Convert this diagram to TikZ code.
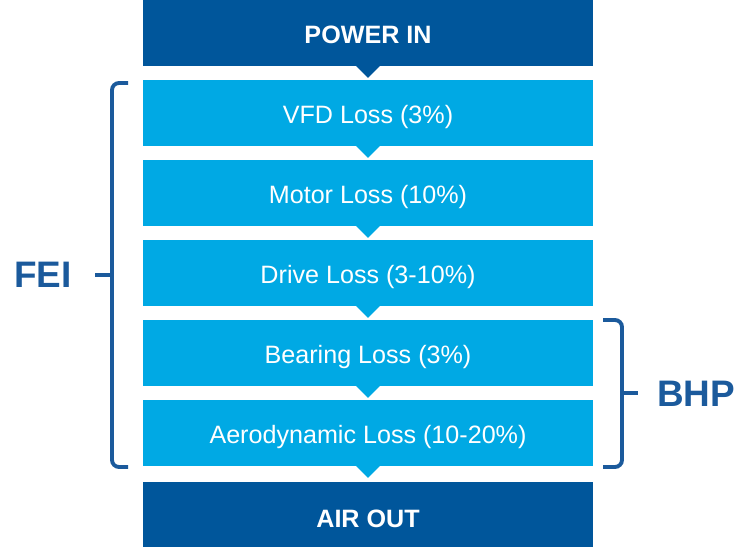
\documentclass[tikz,border=0pt]{standalone}
\usepackage{fontspec}
\setmainfont{Liberation Sans}
\usetikzlibrary{positioning}
\definecolor{darkblue}{HTML}{00569B}
\definecolor{lightblue}{HTML}{00A9E4}
\definecolor{bracketblue}{HTML}{1B5A9C}
\tikzset{
  stage/.style={fill=lightblue, text=white, minimum width=9cm, minimum height=1.32cm,
    inner sep=0pt, outer sep=0pt, text height=12pt, text depth=0pt,
    font=\fontsize{14.3}{16}\selectfont},
  endstage/.style={stage, fill=darkblue, font=\fontsize{14.3}{16}\selectfont\bfseries},
  brack/.style={draw=bracketblue, line width=2.2pt, rounded corners=4pt},
  bigtext/.style={text=bracketblue, font=\fontsize{21}{24}\selectfont\bfseries, inner sep=0pt}
}
\begin{document}
\begin{tikzpicture}[x=0.02cm, y=-0.02cm, node distance=0.28cm]
	\useasboundingbox (0,0) rectangle (750,547);
	
	%Stages
	\node[endstage] (power) at (368,33) {POWER IN};
	\node[stage, below=of power] (vfd) {VFD Loss (3\%)};
	\node[stage, below=of vfd] (motor) {Motor Loss (10\%)};
	\node[stage, below=of motor] (drive) {Drive Loss (3-10\%)};
	\node[stage, below=of drive] (bearing) {Bearing Loss (3\%)};
	\node[stage, below=of bearing] (aero) {Aerodynamic Loss (10-20\%)};
	\node[endstage, below=of aero, minimum height=1.4cm, yshift=-0.04cm] (air) {AIR OUT};
	
	%Notches
	\fill[darkblue] ([xshift=-0.24cm]power.south) -- ([xshift=0.24cm]power.south) -- ([yshift=-0.24cm]power.south) -- cycle;
	\foreach \s in {vfd,motor,drive,bearing,aero}
		\fill[lightblue] ([xshift=-0.24cm]\s.south) -- ([xshift=0.24cm]\s.south) -- ([yshift=-0.24cm]\s.south) -- cycle;
	
	%FEI bracket
	\draw[brack] (128,83) -- (112,83) -- (112,467) -- (128,467);
	\draw[brack, rounded corners=0pt] (112,275) -- (95,275);
	\node[bigtext] (fei) at (43,275) {FEI};
	
	%BHP bracket
	\draw[brack] (603,320) -- (622,320) -- (622,467) -- (603,467);
	\draw[brack, rounded corners=0pt] (622,393) -- (638,393);
	\node[bigtext] (bhp) at (696,394) {BHP};
	
\end{tikzpicture}
\end{document}
